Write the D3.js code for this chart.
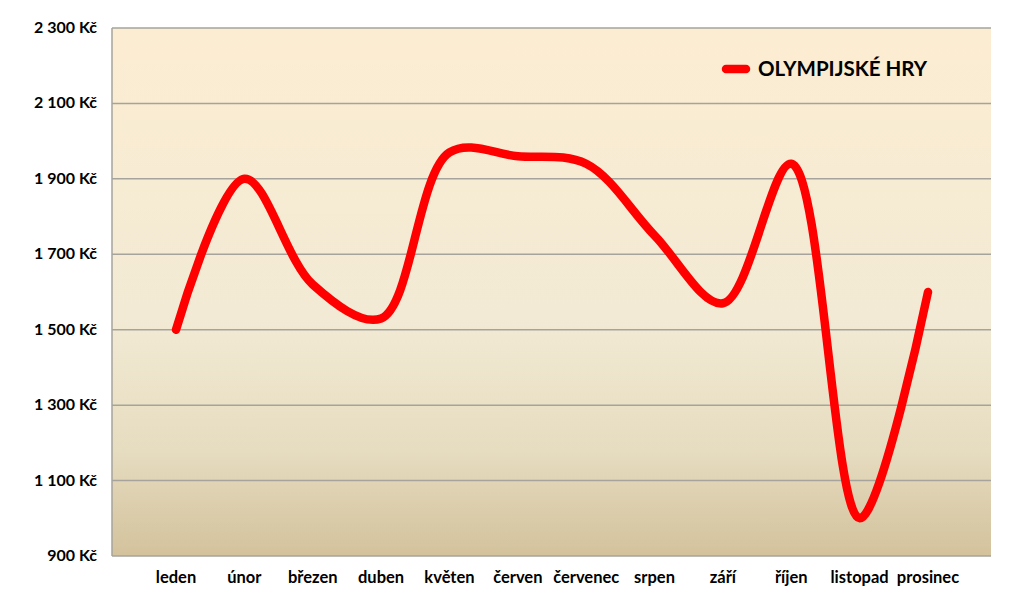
<!DOCTYPE html>
<html><head><meta charset="utf-8">
<script src="https://cdn.jsdelivr.net/npm/d3@7"></script>
<style>body{margin:0;background:#fff}svg{display:block}</style>
</head><body>
<script>
const months = ["leden","únor","březen","duben","květen","červen","červenec","srpen","září","říjen","listopad","prosinec"];
const values = [1500,1900,1620,1530,1970,1960,1940,1750,1570,1940,1000,1600];
const yTicks = [900,1100,1300,1500,1700,1900,2100,2300];
const seriesName = "OLYMPIJSKÉ HRY";

const W=1024,H=597;
const L=112,R=991,T=28,B=556;
const svg=d3.select("body").append("svg").attr("width",W).attr("height",H);
const defs=svg.append("defs");
const g=defs.append("linearGradient").attr("id","bg").attr("x1",0).attr("y1",0).attr("x2",0).attr("y2",1);
[[0,"#FCEDD2"],[0.55,"#F2EAD4"],[0.8,"#E6DCC0"],[1,"#D3C29C"]].forEach(s=>g.append("stop").attr("offset",s[0]).attr("stop-color",s[1]));

const y=d3.scaleLinear().domain([900,2300]).range([B,T]);
const x=d3.scalePoint().domain(months).range([176,928]);

svg.append("rect").attr("x",L).attr("y",T).attr("width",R-L).attr("height",B-T).attr("fill","url(#bg)");

svg.append("g").selectAll("line").data(yTicks).join("line")
  .attr("x1",L).attr("x2",R).attr("y1",d=>y(d)).attr("y2",d=>y(d))
  .attr("stroke","#A6A39C").attr("stroke-width",1.5);
svg.append("line").attr("x1",L).attr("x2",L).attr("y1",T).attr("y2",B).attr("stroke","#A6A39C").attr("stroke-width",1.5);

const fmt=d=>d3.format(",")(d).replace(/,/g," ")+" Kč";
svg.append("g").selectAll("text").data(yTicks).join("text")
  .attr("x",97).attr("y",d=>y(d)+5).attr("text-anchor","end")
  .attr("font-family","Lato, 'Open Sans', sans-serif").attr("font-weight","bold").attr("font-size",16)
  .attr("fill","#000").text(fmt);

svg.append("g").selectAll("text").data(months).join("text")
  .attr("x",d=>x(d)).attr("y",583).attr("text-anchor","middle")
  .attr("font-family","Lato, 'Open Sans', sans-serif").attr("font-weight","bold").attr("font-size",16.5)
  .attr("fill","#000").text(d=>d);

const line=d3.line().x((d,i)=>x(months[i])).y(d=>y(d)).curve(d3.curveCatmullRom.alpha(0.5));
svg.append("path").datum(values).attr("d",line).attr("fill","none")
  .attr("stroke","#FF0000").attr("stroke-width",8.5).attr("stroke-linecap","round").attr("stroke-linejoin","round");

svg.append("line").attr("x1",726).attr("x2",746).attr("y1",69).attr("y2",69)
  .attr("stroke","#FF0000").attr("stroke-width",8.5).attr("stroke-linecap","round");
svg.append("text").attr("x",758).attr("y",76).attr("font-family","Lato, 'Open Sans', sans-serif")
  .attr("font-weight","bold").attr("font-size",20.5).attr("fill","#000").text(seriesName);
</script>
</body></html>
